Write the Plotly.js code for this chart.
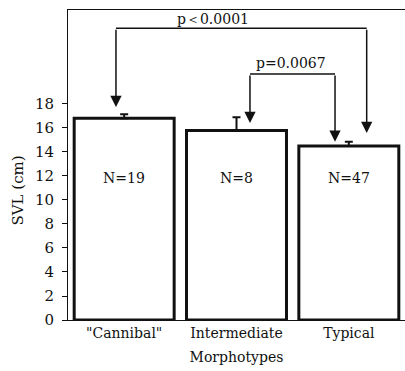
<!DOCTYPE html>
<html><head><meta charset="utf-8">
<script src="https://cdn.plot.ly/plotly-3.0.1.min.js"></script>
<style>body{margin:0;padding:0;background:#fff}#c{width:405px;height:371px}</style>
</head><body><div id="c"></div>
<script>
const categories = ['"Cannibal"', 'Intermediate', 'Typical'];
const svlMeans = [16.8, 15.8, 14.5];
const svlErrors = [0.35, 1.1, 0.35];
const sampleLabels = ['N=19', 'N=8', 'N=47'];
const yTicks = [0, 2, 4, 6, 8, 10, 12, 14, 16, 18];
const pLabels = ['p＜0.0001', 'p=0.0067'];
const yTitle = 'SVL (cm)';

const serif = 'DejaVu Serif, Liberation Serif, serif';
const ink = '#111';

const trace = {
  type: 'bar', x: [0, 1, 2], y: svlMeans,
  marker: {color: '#fff', line: {color: ink, width: 3}},
  error_y: {type: 'data', array: svlErrors, arrayminus: svlErrors.map(() => 0),
            symmetric: false, color: ink, thickness: 2, width: 4},
  hoverinfo: 'none'
};

const annotations = sampleLabels.map((t, i) => ({
  x: i, y: 11.85, xref: 'x', yref: 'y', text: t, showarrow: false,
  font: {family: serif, size: 14, color: ink}
}));

// bracket arrows: [x, yTop, yTip]
const arrows = [[-0.073, 24.3, 17.75], [2.159, 24.3, 15.58], [1.12, 20.5, 16.42], [1.877, 20.5, 14.86]];
arrows.forEach(a => annotations.push({
  x: a[0], y: a[2], ax: a[0], ay: a[1], xref: 'x', yref: 'y', axref: 'x', ayref: 'y',
  text: '', showarrow: true, arrowhead: 2, arrowsize: 1.5, arrowwidth: 1.5, arrowcolor: ink, standoff: 0
}));
annotations.push({x: 0.79, y: 25.1, xref: 'x', yref: 'y', text: pLabels[0], showarrow: false,
  font: {family: serif, size: 14, color: ink}});
annotations.push({x: 1.486, y: 21.45, xref: 'x', yref: 'y', text: pLabels[1], showarrow: false,
  font: {family: serif, size: 14, color: ink}});
annotations.push({x: -0.148, y: 10.8, xref: 'paper', yref: 'y', text: yTitle, textangle: -90,
  showarrow: false, xanchor: 'center', yanchor: 'middle', font: {family: serif, size: 15, color: ink}});

const shapes = [
  {type: 'line', xref: 'x', yref: 'y', x0: -0.073, x1: 2.159, y0: 24.3, y1: 24.3, line: {color: ink, width: 1.5}},
  {type: 'line', xref: 'x', yref: 'y', x0: 1.12, x1: 1.877, y0: 20.5, y1: 20.5, line: {color: ink, width: 1.5}}
];

const layout = {
  width: 405, height: 371,
  margin: {l: 68, r: 0, t: 10, b: 51},
  paper_bgcolor: '#fff', plot_bgcolor: '#fff',
  showlegend: false, bargap: 0.11,
  font: {family: serif, size: 14, color: ink},
  xaxis: {range: [-0.5, 2.5], tickvals: [0, 1, 2], ticktext: categories,
          showline: true, mirror: true, linecolor: ink, linewidth: 1, ticks: '',
          showgrid: false, zeroline: false, tickfont: {family: serif, size: 14, color: ink},
          title: {text: 'Morphotypes', font: {family: serif, size: 14, color: ink}, standoff: 12}},
  yaxis: {range: [0, 25.83], tickvals: yTicks, showline: true, linecolor: ink, linewidth: 1,
          ticks: 'outside', ticklen: 5, tickcolor: ink, showgrid: false, zeroline: false,
          ticklabelstandoff: 5,
          tickfont: {family: serif, size: 15, color: ink}},
  annotations: annotations, shapes: shapes
};

Plotly.newPlot('c', [trace], layout, {displayModeBar: false, staticPlot: true});
</script></body></html>
